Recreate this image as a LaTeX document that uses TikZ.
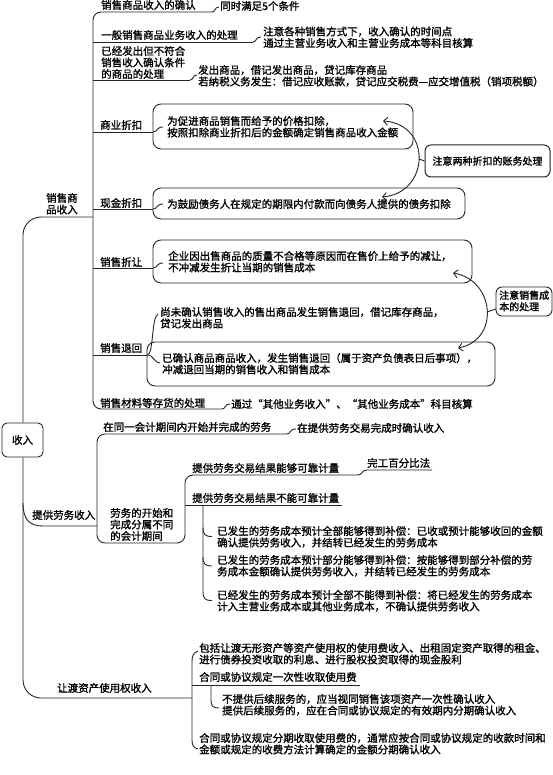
\documentclass[tikz,border=0pt]{standalone}
\usepackage{fontspec}
\newfontfamily\cjk{Noto Sans CJK SC}[AutoFakeBold=1.3]
\usetikzlibrary{arrows.meta}
\newcommand\twol[2]{\vtop{\baselineskip=11.5pt\lineskiplimit=-20pt\hbox{#1}\hbox{#2}}}
\newcommand\threel[3]{\vtop{\baselineskip=11.5pt\lineskiplimit=-20pt\hbox{#1}\hbox{#2}\hbox{#3}}}
\begin{document}
\begin{tikzpicture}[x=1pt,y=-1pt,
 txt/.style={anchor=base west,inner sep=0pt,font=\cjk\bfseries\fontsize{10.5}{11.5}\selectfont},
 ln/.style={line width=0.9pt,draw=black!85},
 bx/.style={ln,rounded corners=8pt},
 dbl/.style={ln,{Straight Barb[length=4pt,width=8pt]}-{Straight Barb[length=4pt,width=8pt]}}]
\useasboundingbox[fill=white] (0,0) rectangle (553,775);

% ---------- root ----------
\node[draw=black!85,line width=0.9pt,rounded corners=5pt,minimum width=41pt,minimum height=34pt,inner sep=0pt,font=\cjk\bfseries\fontsize{10.5}{11.5}\selectfont] (root) at (22.5,440) {收入};

% trunk
\draw[ln,rounded corners=18pt] (93,217) -- (23,217) -- (root.north -| 23,0);
\draw[ln,rounded corners=18pt] (root.south -| 23,0) -- (23,698) -- (192,698);
\draw[ln] (23,503) .. controls (23,519) and (29,526) .. (43,526) -- (97,526);

\node[txt] (s1) at (46,202) {\twol{销售商}{品收入}};
\node[txt] (s2) at (32,519) {提供劳务收入};
\node[txt] (s3) at (57,692) {让渡资产使用权收入};

% ---------- 销售商品收入 branch ----------
\draw[ln,rounded corners=8pt] (212,12) -- (93,12) -- (93,409) -- (222,409);
\draw[ln] (93,42) -- (253,42);
\draw[ln] (93,80) -- (190,80);
\draw[ln] (93,132) -- (153,132);
\draw[ln] (93,209) -- (153,209);
\draw[ln] (93,268) -- (153,268);
\draw[ln] (93,355) -- (147,355);

\node[txt] (n1) at (101,9) {销售商品收入的确认};
\draw[ln] (212,12) .. controls (216,12) and (214,7) .. (219,7);
\node[txt] (n1r) at (220,10) {同时满足5个条件};

\node[txt] (n2) at (101,39) {一般销售商品业务收入的处理};
\draw[ln] (253,42) .. controls (257,42) and (255,37) .. (261,37);
\node[txt] (n2r) at (263,35.5) {\twol{注意各种销售方式下，收入确认的时间点}{通过主营业务收入和主营业务成本等科目核算}};

\node[txt] (n3) at (101,55) {\threel{已经发出但不符合}{销售收入确认条件}{的商品的处理}};
\draw[ln] (190,80) .. controls (194,80) and (192,75) .. (197,75);
\node[txt] (n3r) at (198,74) {\twol{发出商品，借记发出商品，贷记库存商品}{若纳税义务发生：借记应收账款，贷记应交税费—应交增值税（销项税额）}};

% 商业折扣
\node[txt] (n4) at (100,129) {商业折扣};
\draw[bx] (153,104) rectangle (413,149);
\draw[ln] (153,132) .. controls (158,132) and (156,127) .. (163,127);
\node[txt] (n4r) at (167,125) {\twol{为促进商品销售而给予的价格扣除，}{按照扣除商业折扣后的金额确定销售商品收入金额}};

% 现金折扣
\node[txt] (n5) at (100,207) {现金折扣};
\draw[bx] (153,188) rectangle (465,219);
\draw[ln] (153,209) .. controls (158,209) and (156,204) .. (163,204);
\node[txt] (n5r) at (167,208) {为鼓励债务人在规定的期限内付款而向债务人提供的债务扣除};

% note 1
\node[draw=black!85,line width=1pt,rounded corners=6pt,minimum width=125pt,minimum height=32pt,inner sep=0pt,font=\cjk\bfseries\fontsize{10}{11}\selectfont] (note1) at (487.5,161) {注意两种折扣的账务处理};
\draw[dbl] (383,121) .. controls (432,124) and (430,193) .. (382,197);
\draw[ln] (419,159) -- (note1.west);

% 销售折让
\node[txt] (n6) at (100,266) {销售折让};
\draw[bx] (153,240) rectangle (472,283);
\draw[ln] (153,268) .. controls (158,268) and (156,263) .. (163,263);
\node[txt] (n6r) at (168,260) {\twol{企业因出售商品的质量不合格等原因而在售价上给予的减让，}{不冲减发生折让当期的销售成本}};

% 销售退回
\node[txt] (n7) at (100,352) {销售退回};
\draw[ln] (147,355) .. controls (154,355) and (151,318) .. (158,314);
\node[txt] (n7a) at (160,316) {\twol{尚未确认销售收入的售出商品发生销售退回，借记库存商品，}{贷记发出商品}};
\draw[bx] (147,342) rectangle (495,386);
\draw[ln] (147,355) .. controls (154,355) and (153,362) .. (160,363);
\node[txt] (n7b) at (162,362) {\twol{已确认商品商品收入，发生销售退回（属于资产负债表日后事项），}{冲减退回当期的销售收入和销售成本}};

% note 2
\draw[ln,rounded corners=6pt] (496,287) rectangle (552,316);
\node[txt,font=\cjk\bfseries\fontsize{10}{11}\selectfont] (note2) at (499,299) {\twol{注意销售成}{本的处理}};
\draw[dbl] (453,273) .. controls (495,280) and (500,340) .. (458,348);
\draw[ln] (487,312) -- (496,309);

% 销售材料
\node[txt] (n8) at (100,407) {销售材料等存货的处理};
\draw[ln] (222,409) .. controls (226,409) and (224,404) .. (230,404);
\node[txt] (n8r) at (231,408) {通过“其他业务收入”、“其他业务成本”科目核算};

% ---------- 提供劳务收入 branch ----------
\draw[ln,rounded corners=8pt] (287,434) -- (97,434) -- (97,543) -- (185,543) -- (185,475) -- (358,475);
\draw[ln] (185,505) -- (342,505);

\node[txt] (p1) at (103,431) {在同一会计期间内开始并完成的劳务};
\draw[ln] (287,434) .. controls (291,434) and (289,429) .. (296,429);
\node[txt] (p1r) at (297,432) {在提供劳务交易完成时确认收入};

\node[txt] (p2) at (110,517) {\threel{劳务的开始和}{完成分属不同}{的会计期间}};

\node[txt] (p3) at (192,472) {提供劳务交易结果能够可靠计量};
\draw[ln] (358,475) .. controls (363,475) and (361,470) .. (367,470) -- (432,470);
\node[txt] (p3r) at (367,467) {完工百分比法};

\node[txt] (p4) at (192,502) {提供劳务交易结果不能可靠计量};
\draw[ln] (203,505) -- (203,592) .. controls (203,598.5) and (205,600.5) .. (212,600.5);
\draw[ln] (203,527.5) .. controls (203,534.5) and (205,536.5) .. (212,536.5);
\draw[ln] (203,557) .. controls (203,564) and (205,566) .. (212,566);

\node[txt] (p5) at (217,535) {\twol{已发生的劳务成本预计全部能够得到补偿：已收或预计能够收回的金额}{确认提供劳务收入，并结转已经发生的劳务成本}};
\node[txt] (p6) at (217,564) {\twol{已发生的劳务成本预计部分能够得到补偿：按能够得到部分补偿的劳}{务成本金额确认提供劳务收入，并结转已经发生的劳务成本}};
\node[txt] (p7) at (217,599) {\twol{已经发生的劳务成本预计全部不能得到补偿：将已经发生的劳务成本}{计入主营业务成本或其他业务成本，不确认提供劳务收入}};

% ---------- 让渡资产使用权收入 branch ----------
\draw[ln] (198,651) .. controls (193,653) and (192,656) .. (192,662) -- (192,740) .. controls (192,746) and (194,748) .. (198,749);
\draw[ln] (192,685) -- (360,685);
\draw[ln] (211,685) -- (211,700) .. controls (211,706) and (213,708) .. (219,708);

\node[txt] (r1) at (199,652) {\twol{包括让渡无形资产等资产使用权的使用费收入、出租固定资产取得的租金、}{进行债券投资收取的利息、进行股权投资取得的现金股利}};
\node[txt] (r2) at (199,681) {合同或协议规定一次性收取使用费};
\node[txt] (r3) at (222,703) {\twol{不提供后续服务的，应当视同销售该项资产一次性确认收入}{提供后续服务的，应在合同或协议规定的有效期内分期确认收入}};
\node[txt] (r4) at (199,742) {\twol{合同或协议规定分期收取使用费的，通常应按合同或协议规定的收款时间和}{金额或规定的收费方法计算确定的金额分期确认收入}};
\end{tikzpicture}
\end{document}
